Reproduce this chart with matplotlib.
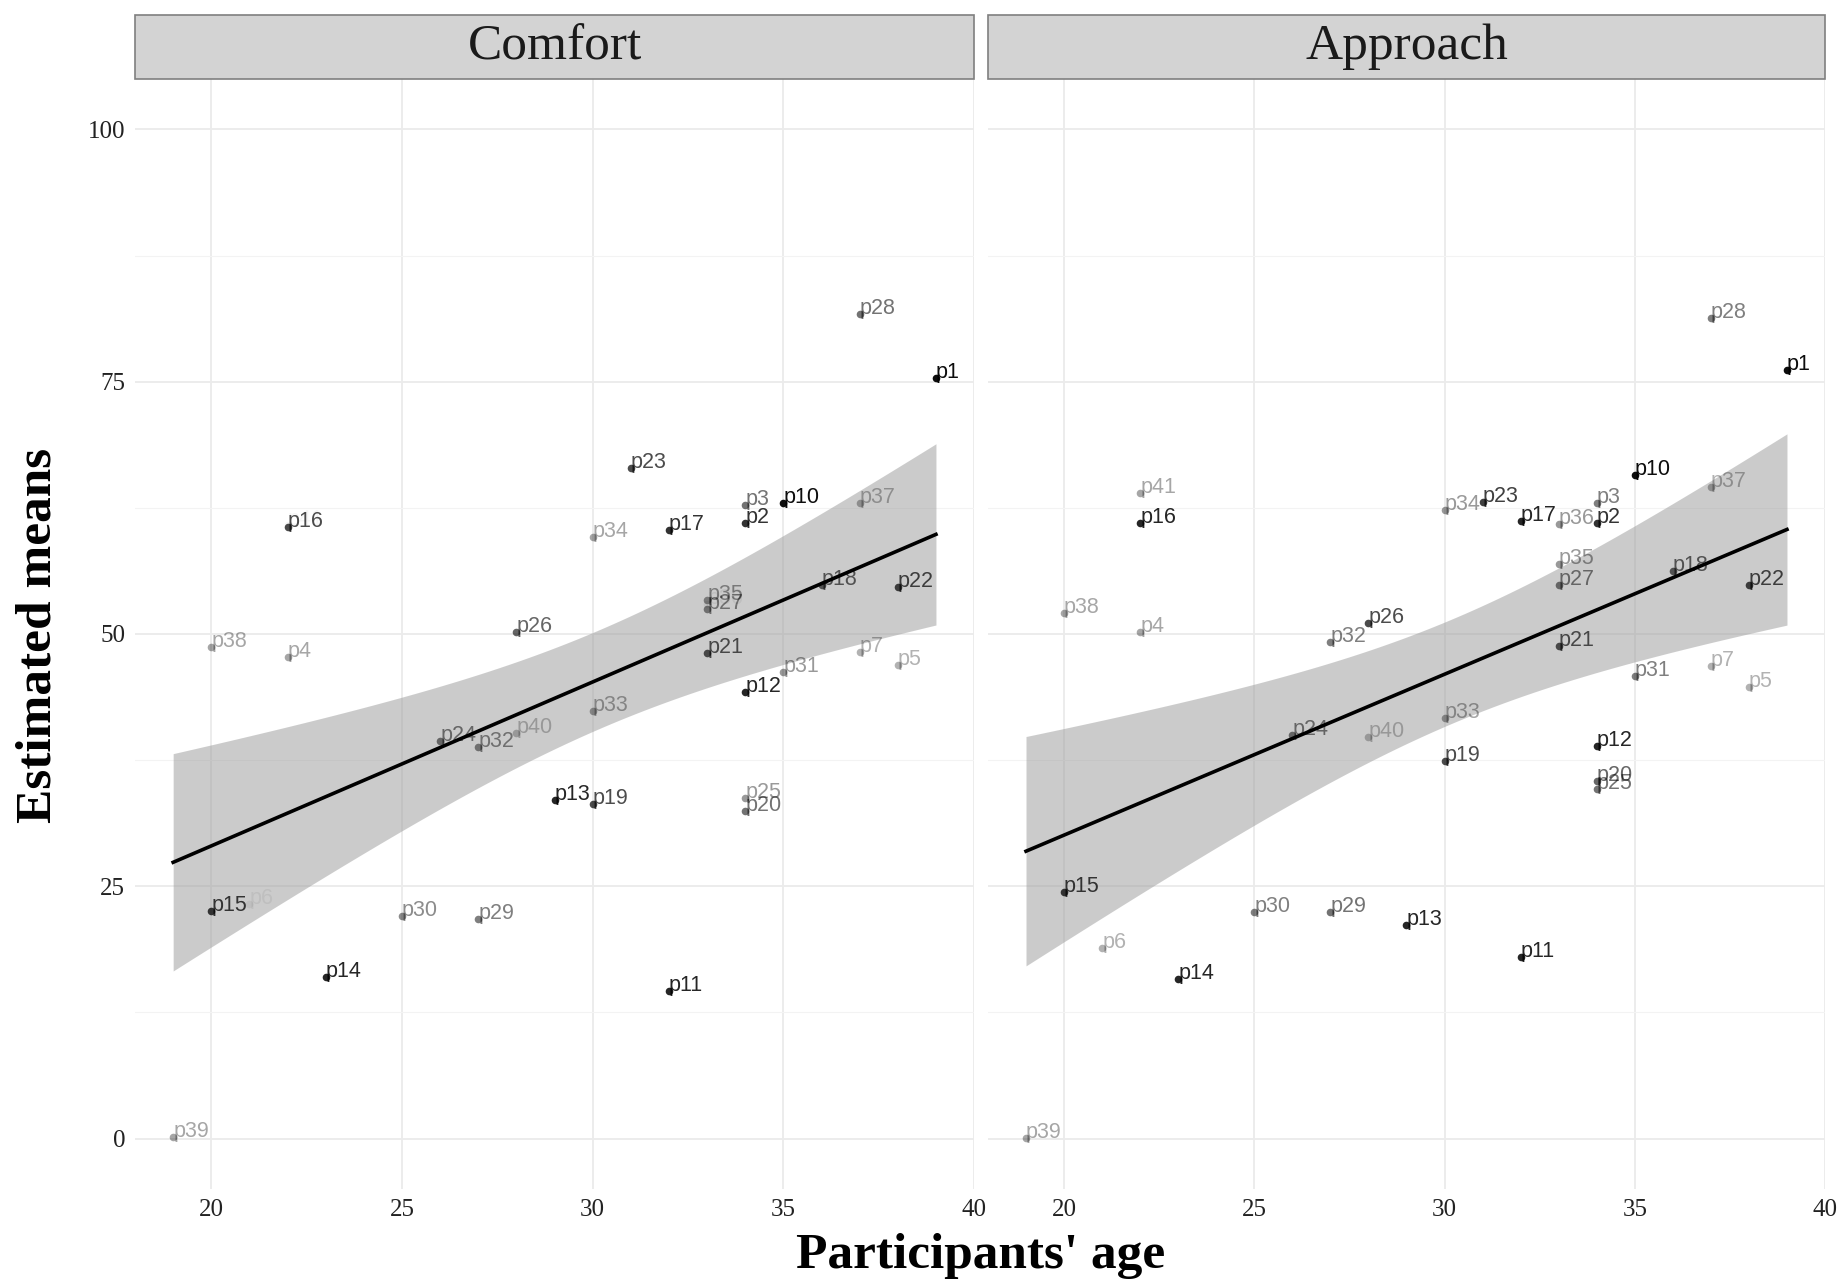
"""
Estimated means by participant age, faceted by outcome (Comfort / Approach),
with a linear fit and 95% confidence band per facet.
"""

import matplotlib.pyplot as plt
import numpy as np
from matplotlib.patches import Rectangle

# ---- data ---------------------------------------------------------------
PARTICIPANTS = [
    "p1", "p2", "p3", "p4", "p5", "p6", "p7", "p10", "p11", "p12", "p13",
    "p14", "p15", "p16", "p17", "p18", "p19", "p20", "p21", "p22", "p23",
    "p24", "p25", "p26", "p27", "p28", "p29", "p30", "p31", "p32", "p33",
    "p34", "p35", "p36", "p37", "p38", "p39", "p40", "p41",
]
AGES = [
    39, 34, 34, 22, 38, 21, 37, 35, 32, 34, 29,
    23, 20, 22, 32, 36, 30, 34, 33, 38, 31,
    26, 34, 28, 33, 37, 27, 25, 35, 27, 30,
    30, 33, 33, 37, 20, 19, 28, 22,
]
COMFORT_MEANS = [
    75.4, 61.0, 62.8, 47.7, 46.9, 23.2, 48.2, 63.0, 14.6, 44.3, 33.6,
    16.0, 22.6, 60.6, 60.3, 54.9, 33.2, 32.5, 48.1, 54.7, 66.4,
    39.4, 33.7, 50.2, 52.5, 81.7, 21.8, 22.1, 46.2, 38.8, 42.4,
    59.6, 53.4, 53.0, 63.0, 48.7, 0.2, 40.2, 60.8,
]
APPROACH_MEANS = [
    76.2, 61.0, 63.0, 50.2, 44.7, 18.9, 46.8, 65.8, 18.0, 38.9, 21.2,
    15.8, 24.4, 61.0, 61.2, 56.2, 37.4, 35.4, 48.8, 54.9, 63.1,
    40.0, 34.6, 51.1, 54.9, 81.3, 22.5, 22.5, 45.8, 49.2, 41.7,
    62.3, 56.9, 60.9, 64.6, 52.1, 0.1, 39.8, 64.0,
]
# opacity of each participant's point and label in each facet
COMFORT_ALPHA = [
    0.95, 0.80, 0.55, 0.35, 0.30, 0.06, 0.30, 0.95, 0.85, 0.85, 0.85,
    0.85, 0.75, 0.70, 0.80, 0.60, 0.70, 0.55, 0.65, 0.70, 0.70,
    0.50, 0.40, 0.60, 0.45, 0.55, 0.50, 0.45, 0.40, 0.45, 0.35,
    0.35, 0.40, 0.06, 0.30, 0.35, 0.35, 0.25, 0.04,
]
APPROACH_ALPHA = [
    0.95, 0.80, 0.50, 0.35, 0.30, 0.30, 0.30, 0.95, 0.85, 0.85, 0.85,
    0.85, 0.75, 0.85, 0.85, 0.60, 0.70, 0.60, 0.65, 0.70, 0.75,
    0.50, 0.55, 0.70, 0.50, 0.50, 0.55, 0.50, 0.50, 0.50, 0.35,
    0.40, 0.40, 0.40, 0.30, 0.35, 0.35, 0.25, 0.35,
]
PANELS = ["Comfort", "Approach"]

T_975 = 2.026  # t quantile for a 95% band, df ~ 37

SERIF = "Liberation Serif"
SANS = "Liberation Sans"


def lm_band(x, y, grid):
    """OLS fit with a 95% confidence band for the mean, as geom_smooth(method='lm')."""
    n = len(x)
    slope, intercept = np.polyfit(x, y, 1)
    resid = y - (intercept + slope * x)
    s = np.sqrt((resid ** 2).sum() / (n - 2))
    xm = x.mean()
    sxx = ((x - xm) ** 2).sum()
    fit = intercept + slope * grid
    se = s * np.sqrt(1.0 / n + (grid - xm) ** 2 / sxx)
    return fit, fit - T_975 * se, fit + T_975 * se


def draw_panel(ax, title, means, alphas, show_y):
    rows = [(a, m, al, p) for p, a, m, al in zip(PARTICIPANTS, AGES, means, alphas)
            if m is not None]
    x = np.array([r[0] for r in rows], dtype=float)
    y = np.array([r[1] for r in rows], dtype=float)

    grid = np.linspace(x.min(), x.max(), 100)
    fit, lo, hi = lm_band(x, y, grid)
    ax.fill_between(grid, lo, hi, color="#999999", alpha=0.5, lw=0, zorder=2)
    ax.plot(grid, fit, color="black", lw=2.6, zorder=3)

    for age, val, alpha, name in rows:
        ax.scatter(age, val, s=30, color="black", alpha=alpha, lw=0, zorder=4)
        ax.text(age, val, name, fontsize=15.5, family=SANS, color="black",
                alpha=alpha, ha="left", va="baseline", zorder=5)

    ax.set_xlim(18, 40)
    ax.set_ylim(-5, 105)
    ax.set_xticks([20, 25, 30, 35, 40])
    ax.set_yticks([0, 25, 50, 75, 100])
    ax.set_yticks([12.5, 37.5, 62.5, 87.5], minor=True)
    ax.grid(which="major", color="#EBEBEB", lw=1.3, zorder=0)
    ax.grid(which="minor", axis="y", color="#F3F3F3", lw=0.8, zorder=0)
    ax.set_axisbelow(True)
    for spine in ax.spines.values():
        spine.set_visible(False)
    ax.tick_params(which="both", length=0, pad=7, labelsize=18, labelcolor="#222222")
    for lab in ax.get_xticklabels() + ax.get_yticklabels():
        lab.set_family(SERIF)
    if not show_y:
        ax.set_yticklabels([])

    # facet strip
    strip_h = 0.0577
    ax.add_patch(Rectangle((0, 1.0), 1, strip_h, transform=ax.transAxes,
                           facecolor="#D3D3D3", edgecolor="#7F7F7F", lw=1.2,
                           clip_on=False, zorder=6))
    ax.text(0.5, 1.0 + strip_h / 2, title, transform=ax.transAxes,
            ha="center", va="center", fontsize=37, family=SERIF,
            color="#1A1A1A", zorder=7)


def main():
    fig = plt.figure(figsize=(18.47, 12.86), dpi=100)
    fig.patch.set_facecolor("white")

    ax_left = fig.add_axes([0.0731, 0.0754, 0.4543, 0.8632])
    ax_right = fig.add_axes([0.5349, 0.0754, 0.4532, 0.8632])

    draw_panel(ax_left, PANELS[0], COMFORT_MEANS, COMFORT_ALPHA, show_y=True)
    draw_panel(ax_right, PANELS[1], APPROACH_MEANS, APPROACH_ALPHA, show_y=False)

    fig.text(0.021, 0.506, "Estimated means", rotation=90, ha="center",
             va="center", fontsize=37, fontweight="bold", family=SERIF)
    fig.text(0.531, 0.0233, "Participants' age", ha="center", va="center",
             fontsize=37, fontweight="bold", family=SERIF)

    fig.savefig("out.png", dpi=100)


if __name__ == "__main__":
    main()
